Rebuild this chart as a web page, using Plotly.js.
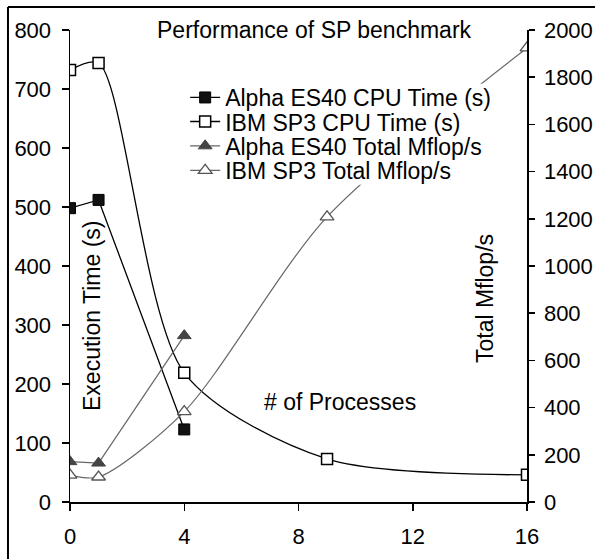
<!DOCTYPE html>
<html>
<head>
<meta charset="utf-8">
<script src="https://cdn.plot.ly/plotly-3.0.1.min.js"></script>
<style>html,body{margin:0;padding:0;background:#fff;}#chart{width:595px;height:559px;}</style>
</head>
<body>
<div id="chart"></div>
<script>
// ---- data ----
const alphaProcs = [0, 1, 4];
const ibmProcs = [0, 1, 4, 9, 16];
const alphaCpuTime = [498, 512, 123];
const ibmCpuTime = [732, 744, 219, 73, 46];
const alphaMflops = [171, 165, 705];
const ibmMflops = [114, 106, 383, 1208, 1924];
const seriesNames = ["Alpha ES40 CPU Time (s)", "IBM SP3 CPU Time (s)", "Alpha ES40 Total Mflop/s", "IBM SP3 Total Mflop/s"];
const chartTitle = "Performance of SP benchmark";
const xTitle = "# of Processes";
const yTitle = "Execution Time (s)";
const y2Title = "Total Mflop/s";

const FONT = "Liberation Sans, Arial, sans-serif";
const fs = 22;
const fsText = 23;

const traces = [
  {x: alphaProcs, y: alphaCpuTime, name: seriesNames[0], mode: "lines+markers", yaxis: "y", legend: "legend",
   line: {color: "#000", width: 1.3, shape: "linear"},
   marker: {symbol: "square", size: 11, color: "#111", line: {color: "#000", width: 1}}},
  {x: ibmProcs, y: ibmCpuTime, name: seriesNames[1], mode: "lines+markers", yaxis: "y", legend: "legend2",
   line: {color: "#000", width: 1.3, shape: "spline", smoothing: 0.8},
   marker: {symbol: "square", size: 11, color: "#fff", line: {color: "#000", width: 1.5}}},
  {x: alphaProcs, y: alphaMflops, name: seriesNames[2], mode: "lines+markers", yaxis: "y2", legend: "legend3",
   line: {color: "#666", width: 1.2, shape: "linear"},
   marker: {symbol: "triangle-up", size: 12, color: "#444", line: {color: "#444", width: 1}}},
  {x: ibmProcs, y: ibmMflops, name: seriesNames[3], mode: "lines+markers", yaxis: "y2", legend: "legend4",
   line: {color: "#666", width: 1.2, shape: "spline", smoothing: 0.8},
   marker: {symbol: "triangle-up", size: 12, color: "#fff", line: {color: "#555", width: 1.3}}}
];

function leg(y) {
  return {x: 0.252, xanchor: "left", y: y, yanchor: "middle", bgcolor: "rgba(0,0,0,0)", borderwidth: 0,
          font: {family: FONT, size: fsText, color: "#000"}, itemwidth: 30, tracegroupgap: 0};
}

const layout = {
  width: 595, height: 559,
  margin: {l: 70, r: 68, t: 30, b: 57, pad: 0},
  paper_bgcolor: "#fff", plot_bgcolor: "rgba(0,0,0,0)",
  font: {family: FONT, size: fs, color: "#000"},
  title: {text: chartTitle, x: 0.534, xref: "paper", xanchor: "center", y: 1.0, yref: "paper", yanchor: "middle",
          font: {family: FONT, size: fsText, color: "#000"}},
  showlegend: true,
  legend: leg(0.857),
  legend2: leg(0.806),
  legend3: leg(0.7545),
  legend4: leg(0.7025),
  xaxis: {range: [0, 16], dtick: 4, tick0: 0, showgrid: false, zeroline: false, showline: true, linecolor: "#000", linewidth: 1.5,
          ticks: "outside", ticklen: 7, tickwidth: 1.5, tickcolor: "#000", ticklabelstandoff: 7,
          tickfont: {family: FONT, size: fs, color: "#000"}},
  yaxis: {range: [0, 800], dtick: 100, tick0: 0, showgrid: false, zeroline: false, showline: true, linecolor: "#000", linewidth: 1.5,
          ticks: "outside", ticklen: 7, tickwidth: 1.5, tickcolor: "#000", ticklabelstandoff: 6,
          tickfont: {family: FONT, size: fs, color: "#000"}},
  yaxis2: {range: [0, 2000], dtick: 200, tick0: 0, overlaying: "y", side: "right", anchor: "x",
          showgrid: false, zeroline: false, showline: true, linecolor: "#000", linewidth: 1.5,
          ticks: "outside", ticklen: 6, tickwidth: 1.5, tickcolor: "#000", ticklabelstandoff: 5,
          tickfont: {family: FONT, size: fs, color: "#000"}},
  yaxis3: {range: [0, 2000], dtick: 200, tick0: 0, overlaying: "y", side: "right", anchor: "x",
          showgrid: false, zeroline: false, showline: false, showticklabels: false,
          ticks: "inside", ticklen: 6, tickwidth: 1.5, tickcolor: "#000"},
  annotations: [
    {text: yTitle, xref: "paper", yref: "paper", x: 0.048, y: 0.394, textangle: -90, showarrow: false,
     xanchor: "center", yanchor: "middle", font: {family: FONT, size: fsText, color: "#000"}},
    {text: y2Title, xref: "paper", yref: "paper", x: 0.908, y: 0.432, textangle: -90, showarrow: false,
     xanchor: "center", yanchor: "middle", font: {family: FONT, size: fsText, color: "#000"}},
    {text: xTitle, xref: "paper", yref: "paper", x: 0.591, y: 0.212, showarrow: false,
     xanchor: "center", yanchor: "middle", font: {family: FONT, size: fsText, color: "#000"}}
  ],
  shapes: [
    // white legend background (covers data lines behind the legend)
    {type: "rect", xref: "paper", yref: "paper", x0: 0.247, x1: 0.919, y0: 0.672, y1: 0.886, layer: "above",
     fillcolor: "#fff", line: {width: 0}},
    // outer frame (left and top edges visible)
    {type: "line", xref: "paper", yref: "paper", x0: -0.1357, x1: -0.1357, y0: -0.2, y1: 1.0487, line: {color: "#000", width: 2}},
    {type: "line", xref: "paper", yref: "paper", x0: -0.1357, x1: 1.3, y0: 1.0487, y1: 1.0487, line: {color: "#000", width: 2}}
  ]
};

Plotly.newPlot("chart", traces, layout, {displayModeBar: false, staticPlot: true});
</script>
</body>
</html>
